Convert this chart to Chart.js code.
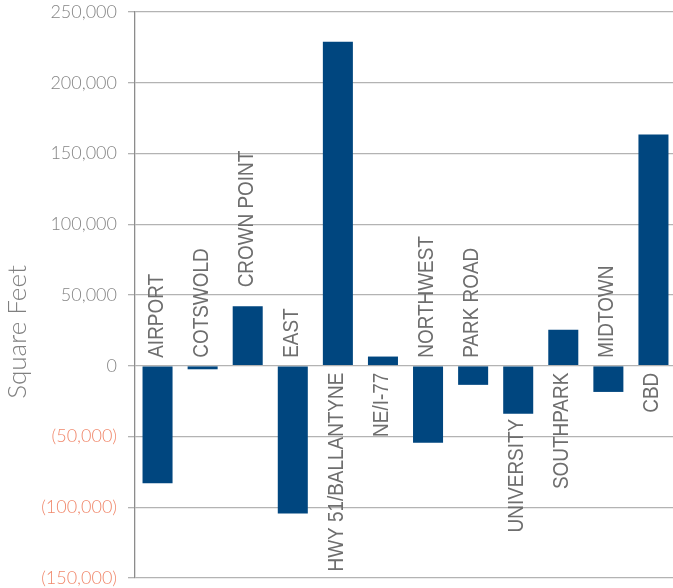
<!DOCTYPE html>
<html>
<head>
<meta charset="utf-8">
<script src="https://cdn.jsdelivr.net/npm/chart.js@4"></script>
<style>
  html, body { margin: 0; padding: 0; background: #fff; overflow: hidden; }
  .wrap { width: 673px; height: 588px; overflow: hidden; }
</style>
</head>
<body>
<div class="wrap">
  <canvas id="sqftChart" width="676" height="588"></canvas>
</div>
<script>
const categories = ['AIRPORT', 'COTSWOLD', 'CROWN POINT', 'EAST', 'HWY 51/BALLANTYNE', 'NE/I-77',
    'NORTHWEST', 'PARK ROAD', 'UNIVERSITY', 'SOUTHPARK', 'MIDTOWN', 'CBD']
const absorption = [-83000, -2500, 42000, -104500, 229000, 6500, -54500, -13500, -34000, 25500, -18500, 163500]
const yTicks = [-150000, -100000, -50000, 0, 50000, 100000, 150000, 200000, 250000]
const yTitle = 'Square Feet'

const fmt = v => {
    const s = Math.abs(v).toLocaleString('en-US')
    return v < 0 ? '(' + s + ')' : s
}

// category names are drawn inside the plot, rotated, next to the zero line
// (two of them sit next to their bar end instead)
const labelPlugin = {
    id: 'catLabels',
    afterDatasetsDraw(chart, args, opts) {
        const ctx = chart.ctx
        const x = chart.scales.x
        const y = chart.scales.y
        const zero = y.getPixelForValue(0)
        ctx.save()
        ctx.font = '300 22px "Liberation Sans", Arial, sans-serif'
        ctx.fillStyle = '#6e6e6e'
        ctx.textBaseline = 'alphabetic'
        categories.forEach((name, i) => {
            const v = absorption[i]
            const cx = x.getPixelForValue(i) + 5
            let py, align
            if (opts.aboveBar.includes(i)) {
                py = y.getPixelForValue(v) - 19; align = 'left'
            } else if (opts.belowBar.includes(i)) {
                py = y.getPixelForValue(v) + 5; align = 'right'
            } else if (v < 0) {
                py = zero - 8; align = 'left'
            } else {
                py = zero + 7; align = 'right'
            }
            ctx.save()
            ctx.translate(cx, py)
            ctx.rotate(-Math.PI / 2)
            ctx.scale(0.86, 1)
            ctx.textAlign = align
            ctx.fillText(name, 0, 0)
            ctx.restore()
        })

        // axis title
        ctx.font = '300 26px Lato, "Liberation Sans", sans-serif'
        ctx.fillStyle = '#808080'
        ctx.translate(26, 332)
        ctx.rotate(-Math.PI / 2)
        ctx.textAlign = 'center'
        ctx.fillText(yTitle, 0, 0)
        ctx.restore()
    }
}

var ctx = document.getElementById('sqftChart').getContext('2d')
var sqftChart = new Chart(ctx, {
    type: 'bar',
    data: {
        labels: categories,
        datasets: [{
            data: absorption,
            backgroundColor: '#00467f',
            borderWidth: 0,
            categoryPercentage: 1,
            barPercentage: 0.666
        }]
    },
    plugins: [labelPlugin],
    options: {
        responsive: false,
        animation: false,
        layout: { padding: { top: 12, bottom: 10, left: 0, right: 0 } },
        plugins: {
            legend: { display: false },
            tooltip: { enabled: false },
            catLabels: { aboveBar: [2], belowBar: [8] }
        },
        scales: {
            x: { display: false },
            y: {
                min: yTicks[0],
                max: yTicks[yTicks.length - 1],
                afterBuildTicks: axis => { axis.ticks = yTicks.map(v => ({ value: v })) },
                afterFit: axis => {
                    axis.width = 135
                    axis.paddingTop = 0
                    axis.paddingBottom = 0
                },
                grid: { color: '#b3b3b3', lineWidth: 1.3, tickLength: 7 },
                border: { display: true, color: '#8c8c8c', width: 1.3 },
                ticks: {
                    padding: 11,
                    font: { family: 'Lato, "Liberation Sans", sans-serif', size: 18, weight: '300' },
                    color: c => c.tick && c.tick.value < 0 ? '#f0886c' : '#858585',
                    callback: v => fmt(v)
                }
            }
        }
    }
})
</script>
</body>
</html>
